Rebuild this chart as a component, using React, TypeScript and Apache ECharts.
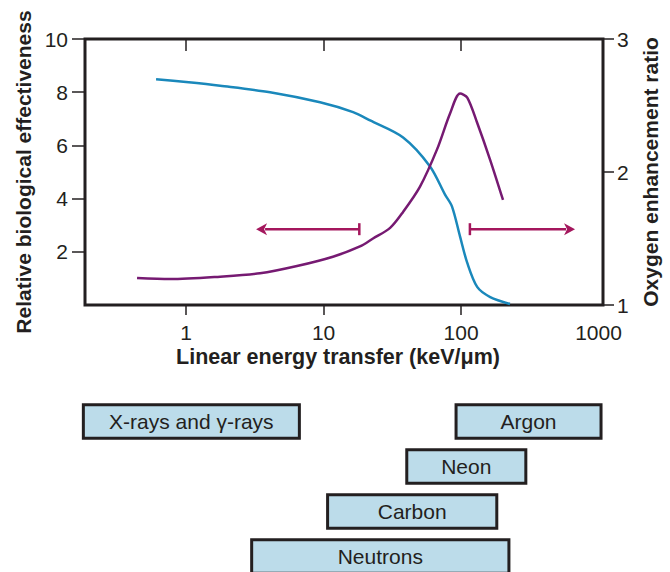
import React, { useEffect, useRef } from "react";
import * as echarts from "echarts";

// Relative biological effectiveness (left axis) vs LET
const rbeLet = [0.605, 1.0, 1.77, 4.08, 9.43, 16.4, 21.8, 37.9, 59.5, 76.5, 86, 98.4, 111, 131, 163, 227];
const rbeValues = [8.49, 8.38, 8.24, 8.0, 7.62, 7.25, 6.94, 6.3, 5.21, 4.15, 3.7, 2.57, 1.58, 0.68, 0.3, 0.04];

// Oxygen enhancement ratio (right axis) vs LET
const oerLet = [0.44, 0.765, 1.77, 3.45, 6.41, 11.7, 18.4, 22.9, 30.5, 37.9, 50.3, 66.9, 83.2, 98.4, 111, 131, 163, 202];
const oerValues = [1.203, 1.195, 1.213, 1.238, 1.293, 1.363, 1.44, 1.5, 1.58, 1.7, 1.89, 2.17, 2.44, 2.59, 2.56, 2.37, 2.09, 1.79];

// Range arrows drawn at a fixed OER level: [start LET (bar end), tip LET]
const arrowFrom = [18.2, 116];
const arrowTo = [3.23, 675];
const arrowLevel = 1.57;

// LET ranges of the radiation types
const bandNames = ["X-rays and γ-rays", "Argon", "Neon", "Carbon", "Neutrons"];
const bandStart = [0.179, 92, 40.3, 10.7, 3.0];
const bandEnd = [6.67, 1043, 296, 182, 223];
const bandRow = [0, 0, 1, 2, 3];

const xTicks = [1, 10, 100];
const xLabels = [1, 10, 100, 1000];
const rbeTicks = [2, 4, 6, 8, 10];

const X_MIN = 0.184;
const X_MAX = 1078;

const INK = "#231f20";
const FONT = "'Liberation Sans', Arial, Helvetica, sans-serif";

export default function App() {
  const ref = useRef<HTMLDivElement>(null);

  useEffect(() => {
    if (!ref.current) return;
    const chart = echarts.init(ref.current, undefined, { renderer: "svg" });

    const rbeData = rbeLet.map((x, i) => [x, rbeValues[i]]);
    const oerData = oerLet.map((x, i) => [x, oerValues[i]]);
    const arrowData = arrowFrom.map((x, i) => [x, arrowTo[i], arrowLevel]);
    const bandData = bandNames.map((n, i) => [bandStart[i], bandEnd[i], bandRow[i], n]);

    const option: any = {
      animation: false,
      backgroundColor: "#ffffff",
      textStyle: { fontFamily: FONT },
      grid: [
        {
          left: 85,
          top: 39,
          width: 518,
          height: 266,
          show: true,
          borderColor: INK,
          borderWidth: 3,
          backgroundColor: "transparent",
          outerBoundsMode: "none",
        },
        // four rows, 45 px apart; the last row runs past the bottom edge
        { left: 85, top: 399, width: 518, height: 180, outerBoundsMode: "none" },
      ],
      xAxis: [
        {
          type: "log",
          gridIndex: 0,
          position: "bottom",
          min: X_MIN,
          max: X_MAX,
          axisLine: { show: false },
          splitLine: { show: false },
          axisTick: {
            show: true,
            inside: false,
            length: 10,
            customValues: xTicks,
            lineStyle: { color: INK, width: 1.5 },
          },
          axisLabel: {
            customValues: xLabels,
            margin: 17,
            color: INK,
            fontSize: 21,
            fontFamily: FONT,
            formatter: (v: number) => String(Math.round(v)),
          },
          name: "Linear energy transfer (keV/μm)",
          nameLocation: "middle",
          nameGap: 41,
          nameTextStyle: {
            fontSize: 21.5,
            fontWeight: "bold",
            color: INK,
            fontFamily: FONT,
            padding: [0, 12, 0, 0],
          },
        },
        {
          type: "log",
          gridIndex: 0,
          position: "top",
          min: X_MIN,
          max: X_MAX,
          axisLine: { show: false },
          splitLine: { show: false },
          axisTick: {
            show: true,
            inside: true,
            length: 12,
            customValues: xTicks,
            lineStyle: { color: INK, width: 1.5 },
          },
          axisLabel: { show: false },
        },
        {
          type: "log",
          gridIndex: 1,
          min: X_MIN,
          max: X_MAX,
          show: false,
        },
      ],
      yAxis: [
        {
          type: "value",
          gridIndex: 0,
          position: "left",
          min: 0,
          max: 10,
          interval: 2,
          axisLine: { show: false },
          splitLine: { show: false },
          axisTick: {
            show: true,
            length: 13,
            customValues: rbeTicks,
            lineStyle: { color: INK, width: 1.5 },
          },
          axisLabel: {
            customValues: rbeTicks,
            margin: 17,
            color: INK,
            fontSize: 21,
            fontFamily: FONT,
          },
          name: "Relative biological effectiveness",
          nameLocation: "middle",
          nameRotate: 90,
          nameGap: 50,
          nameTextStyle: { fontSize: 21, fontWeight: "bold", color: INK, fontFamily: FONT },
        },
        {
          type: "value",
          gridIndex: 0,
          position: "right",
          min: 1,
          max: 3,
          interval: 1,
          axisLine: { show: false },
          splitLine: { show: false },
          axisTick: { show: true, length: 11, lineStyle: { color: INK, width: 1.5 } },
          axisLabel: { margin: 14, color: INK, fontSize: 21, fontFamily: FONT },
          name: "Oxygen enhancement ratio",
          nameLocation: "middle",
          nameRotate: 90,
          nameGap: 34,
          nameTextStyle: { fontSize: 21, fontWeight: "bold", color: INK, fontFamily: FONT },
        },
        {
          type: "value",
          gridIndex: 1,
          min: -0.5,
          max: 3.5,
          inverse: true,
          show: false,
        },
      ],
      series: [
        {
          name: "RBE",
          type: "line",
          xAxisIndex: 0,
          yAxisIndex: 0,
          data: rbeData,
          smooth: 0.3,
          showSymbol: false,
          symbol: "none",
          lineStyle: { color: "#1a88bb", width: 2.5 },
          z: 3,
        },
        {
          name: "OER",
          type: "line",
          xAxisIndex: 0,
          yAxisIndex: 1,
          data: oerData,
          smooth: 0.3,
          showSymbol: false,
          symbol: "none",
          lineStyle: { color: "#761a72", width: 2.5 },
          z: 3,
        },
        {
          name: "OER ranges",
          type: "custom",
          xAxisIndex: 0,
          yAxisIndex: 1,
          clip: false,
          data: arrowData,
          renderItem: (params: any, api: any) => {
            const p0 = api.coord([api.value(0), api.value(2)]);
            const p1 = api.coord([api.value(1), api.value(2)]);
            const dir = p1[0] > p0[0] ? 1 : -1;
            const head = 11;
            const color = "#a4175d";
            return {
              type: "group",
              children: [
                {
                  type: "line",
                  shape: { x1: p0[0], y1: p0[1], x2: p1[0] - dir * (head - 2), y2: p1[1] },
                  style: { stroke: color, lineWidth: 2.5 },
                },
                {
                  type: "line",
                  shape: { x1: p0[0], y1: p0[1] - 6, x2: p0[0], y2: p0[1] + 6 },
                  style: { stroke: color, lineWidth: 2.5 },
                },
                {
                  type: "polygon",
                  shape: {
                    points: [
                      [p1[0], p1[1]],
                      [p1[0] - dir * head, p1[1] - 6],
                      [p1[0] - dir * (head - 3), p1[1]],
                      [p1[0] - dir * head, p1[1] + 6],
                    ],
                  },
                  style: { fill: color },
                },
              ],
            };
          },
          z: 4,
        },
        {
          name: "Radiation types",
          type: "custom",
          xAxisIndex: 2,
          yAxisIndex: 2,
          clip: false,
          data: bandData,
          renderItem: (params: any, api: any) => {
            const row = api.value(2);
            const a = api.coord([api.value(0), row]);
            const b = api.coord([api.value(1), row]);
            const h = api.size([0, 1])[1] * 0.74;
            const label = bandNames[params.dataIndex];
            return {
              type: "group",
              children: [
                {
                  type: "rect",
                  shape: { x: a[0], y: a[1] - h / 2, width: b[0] - a[0], height: h },
                  style: { fill: "#bcdcea", stroke: INK, lineWidth: 3 },
                },
                {
                  type: "text",
                  style: {
                    text: label,
                    x: (a[0] + b[0]) / 2,
                    y: a[1],
                    align: "center",
                    verticalAlign: "middle",
                    fill: INK,
                    fontSize: 21,
                    fontFamily: FONT,
                  },
                },
              ],
            };
          },
        },
      ],
    };

    chart.setOption(option);
    return () => chart.dispose();
  }, []);

  return (
    <div
      ref={ref}
      style={{ position: "fixed", left: 0, top: 0, width: 670, height: 572 }}
    />
  );
}
